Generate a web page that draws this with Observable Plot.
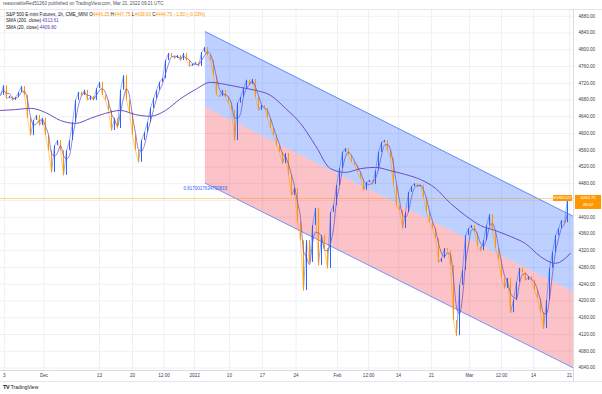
<!DOCTYPE html>
<html><head><meta charset="utf-8">
<script src="https://cdn.jsdelivr.net/npm/d3@7"></script>
<script src="https://cdn.jsdelivr.net/npm/@observablehq/plot@0.6"></script>
<style>
html,body{margin:0;padding:0;background:#fff;}
#wrap{position:relative;width:602px;height:394px;overflow:hidden;font-family:"Liberation Sans",Arial,sans-serif;color:#131722;}
.abs{position:absolute;white-space:nowrap;line-height:1;}
#pub{left:3px;top:2px;font-size:4.6px;color:#50535e;}
#chart{position:absolute;left:0;top:9px;}
.leg{left:6px;font-size:4.6px;color:#131722;}
.o{color:#ff9800}
.p{color:#673ab7}
.line{position:absolute;background:#d9dce3;}
.box{position:absolute;background:#ff9800;color:#fff;font-size:4.2px;text-align:center;}
#logo{left:3px;top:385px;font-size:5px;color:#131722;}
</style></head><body>
<div id="wrap">
  <div id="pub" class="abs"></div>
  <div class="line" style="left:0;top:9px;width:602px;height:1px;background:#e3e6ec"></div>
  <div id="chart"></div>
  <div class="line" style="left:0;top:370px;width:574px;height:1px;"></div>
  <div class="line" style="left:0;top:381px;width:602px;height:1px;background:#e3e6ec"></div>
  <div class="line" style="left:573px;top:9px;width:1px;height:373px;"></div>
  <div id="leg1" class="abs leg" style="top:12.5px"></div>
  <div id="leg2" class="abs leg" style="top:19px"></div>
  <div id="leg3" class="abs leg" style="top:25.5px"></div>
  <div id="tag" class="box" style="left:553px;top:194.5px;width:19px;height:6px;line-height:6px;"></div>
  <div id="pbox" class="box" style="left:575px;top:194.5px;width:26px;height:14px;line-height:6.5px;padding-top:0.5px;"></div>
  <div id="logo" class="abs"><b style="font-size:5.5px;letter-spacing:-0.3px">TV</b> TradingView</div>
</div>
<script>
// ---- data ----
const publishedText = "reasonableRed51260 published on TradingView.com, Mar 21, 2022 09:21 UTC";
const symbolText = "S&P 500 E-mini Futures, 1h, CME_MINI";
const ohlcLetters = ["O", "H", "L", "C"];
const ohlcValues = [4446.25, 4447.75, 4439.00, 4444.75];
const changeText = "−1.50 (−0.03%)";
const smaNames = ["SMA (200, close)", "SMA (20, close)"];
const smaValues = [4313.61, 4409.80];
const contractName = "ESM2022";
const countdown = "48:02";
const pearsonR = "0.8170017634790815";

// hourly closes sampled across the visible range (one value per sample step)
const closes = [
  4691, 4714, 4683, 4688, 4679, 4686, 4698, 4712, 4691, 4636,
  4595, 4631, 4643, 4619, 4636, 4595, 4559, 4507, 4571, 4583,
  4559, 4500, 4559, 4583, 4626, 4679, 4698, 4691, 4703, 4679,
  4688, 4679, 4707, 4722, 4691, 4679, 4655, 4607, 4636, 4612,
  4703, 4738, 4679, 4650, 4595, 4559, 4531, 4583, 4602, 4626,
  4660, 4683, 4703, 4722, 4731, 4774, 4791, 4784, 4779, 4786,
  4774, 4791, 4774, 4760, 4765, 4769, 4760, 4793, 4805, 4786,
  4774, 4738, 4691, 4688, 4703, 4686, 4672, 4655, 4583, 4672,
  4686, 4707, 4727, 4717, 4729, 4686, 4655, 4667, 4660, 4636,
  4612, 4595, 4571, 4555, 4528, 4552, 4500, 4452, 4469, 4387,
  4344, 4225, 4344, 4292, 4380, 4421, 4285, 4356, 4325, 4278,
  4411, 4428, 4476, 4516, 4555, 4564, 4547, 4531, 4524, 4507,
  4492, 4464, 4483, 4488, 4478, 4511, 4555, 4578, 4583, 4559,
  4540, 4476, 4428, 4416, 4373, 4411, 4459, 4473, 4480, 4473,
  4476, 4447, 4411, 4387, 4373, 4349, 4292, 4301, 4325, 4320,
  4285, 4153, 4117, 4237, 4273, 4356, 4373, 4380, 4363, 4330,
  4320, 4344, 4380, 4406, 4368, 4325, 4297, 4254, 4230, 4254,
  4172, 4201, 4244, 4278, 4268, 4249, 4258, 4249, 4225, 4206,
  4172, 4134, 4201, 4278, 4316, 4356, 4373, 4392, 4387, 4444.75
];
// SMA 200 read every 5 samples
const sma200Step = 5;
const sma200 = [
  4655, 4657, 4660, 4650, 4631, 4624, 4636, 4648, 4655, 4645,
  4641, 4655, 4683, 4705, 4722, 4717, 4710, 4703, 4691, 4660,
  4624, 4571, 4516, 4507, 4516, 4519, 4511, 4502, 4490, 4469,
  4433, 4404, 4380, 4368, 4354, 4337, 4306, 4290, 4314
];
// regression channel (sample index, mid price), half width in points
const channelX = [68.3, 191];
const channelMid = [4662, 4221];
const channelDev = 181;

const xTickPos = [1.3, 14.5, 33, 44, 54.5, 64.7, 76.3, 87.3, 98.5, 112.3, 122.7, 132.7, 143.7, 156.3, 167, 177.7, 189.7];
const xTickLabels = ["3", "Dec", "13", "20", "12:00", "2022", "10", "17", "24", "Feb", "12:00", "14", "21", "Mar", "12:00", "14", "21"];
const yTicks = [4040, 4080, 4120, 4160, 4200, 4240, 4280, 4320, 4360, 4400, 4440, 4480, 4520, 4560, 4600, 4640, 4680, 4720, 4760, 4800, 4840, 4880];

// ---- build ----
const UP = "#2962ff", DOWN = "#ff9800", PURPLE = "#6a4fc4";
const candles = closes.map((c, i) => ({i, o: i ? closes[i - 1] : c, c}));
const sma20 = closes.map((c, i) => ({i, v: d3.mean(closes.slice(Math.max(0, i - 2), i + 1))}));
const sma200Data = sma200.map((v, k) => ({i: k * sma200Step, v}));
const chan = channelX.map((x, k) => ({x, mid: channelMid[k], up: channelMid[k] + channelDev, lo: channelMid[k] - channelDev}));
const xt = xTickPos.map((t, k) => ({t, label: xTickLabels[k]}));
const last = closes[closes.length - 1];
// the last-price tag on the scale hides the tick label beneath it
const yLabelTicks = yTicks.filter(d => Math.abs(d - last) > 16);

const chart = Plot.plot({
  width: 602, height: 373,
  marginLeft: 0, marginRight: 29, marginTop: 1, marginBottom: 12,
  x: {domain: [0, 191], axis: null},
  y: {domain: [4034, 4893.6], axis: null},
  style: {fontFamily: "Liberation Sans, Arial, sans-serif", background: "transparent"},
  marks: [
    Plot.gridY(yTicks, {stroke: "#eef0f5", strokeOpacity: 1}),
    Plot.gridX(xTickPos, {stroke: "#eef0f5", strokeOpacity: 1}),
    Plot.areaY(chan, {x: "x", y1: "mid", y2: "up", fill: "#2962ff", fillOpacity: 0.3}),
    Plot.areaY(chan, {x: "x", y1: "lo", y2: "mid", fill: "#f23645", fillOpacity: 0.3}),
    Plot.line(chan, {x: "x", y: "up", stroke: "#2962ff", strokeOpacity: 0.65, strokeWidth: 1}),
    Plot.line(chan, {x: "x", y: "lo", stroke: "#2962ff", strokeOpacity: 0.65, strokeWidth: 1}),
    Plot.ruleY([last], {stroke: "#ff9800", strokeOpacity: 0.45, strokeWidth: 1}),
    Plot.link(candles.slice(1), {x1: d => d.i - 1, y1: "o", x2: "i", y2: "c", stroke: d => d.c >= d.o ? UP : DOWN, strokeWidth: 0.5}),
    Plot.ruleX(candles, {x: "i", y1: "o", y2: "c", stroke: d => d.c >= d.o ? UP : DOWN, strokeWidth: 1}),
    Plot.line(sma200Data, {x: "i", y: "v", stroke: PURPLE, strokeWidth: 1, curve: "monotone-x"}),
    Plot.line(sma20, {x: "i", y: "v", stroke: PURPLE, strokeWidth: 0.8, strokeOpacity: 0.9, curve: "monotone-x"}),
    Plot.text([pearsonR], {x: channelX[0], y: channelMid[0] - channelDev, text: d => d, dy: 5, fill: "#2962ff", fontSize: 4.5}),
    Plot.text(yLabelTicks, {y: d => d, text: d => d.toFixed(2), frameAnchor: "right", dx: 5, textAnchor: "start", fill: "#3b3e48", fontSize: 4.6}),
    Plot.text(xt, {x: "t", text: "label", frameAnchor: "bottom", dy: 6, fill: "#3b3e48", fontSize: 4.6})
  ]
});
document.getElementById("chart").appendChild(chart);

document.getElementById("pub").textContent = publishedText;
document.getElementById("leg1").innerHTML = symbolText.replace("&", "&amp;") + " " +
  ohlcLetters.map((l, k) => `${l}<span class="o">${ohlcValues[k].toFixed(2)}</span>`).join(" ") +
  ` <span class="o">${changeText}</span>`;
document.getElementById("leg2").innerHTML = `${smaNames[0]} <span class="p">${smaValues[0].toFixed(2)}</span>`;
document.getElementById("leg3").innerHTML = `${smaNames[1]} <span class="p">${smaValues[1].toFixed(2)}</span>`;
document.getElementById("tag").textContent = contractName;
document.getElementById("pbox").innerHTML = `${last.toFixed(2)}<br>${countdown}`;
</script>
</body></html>
